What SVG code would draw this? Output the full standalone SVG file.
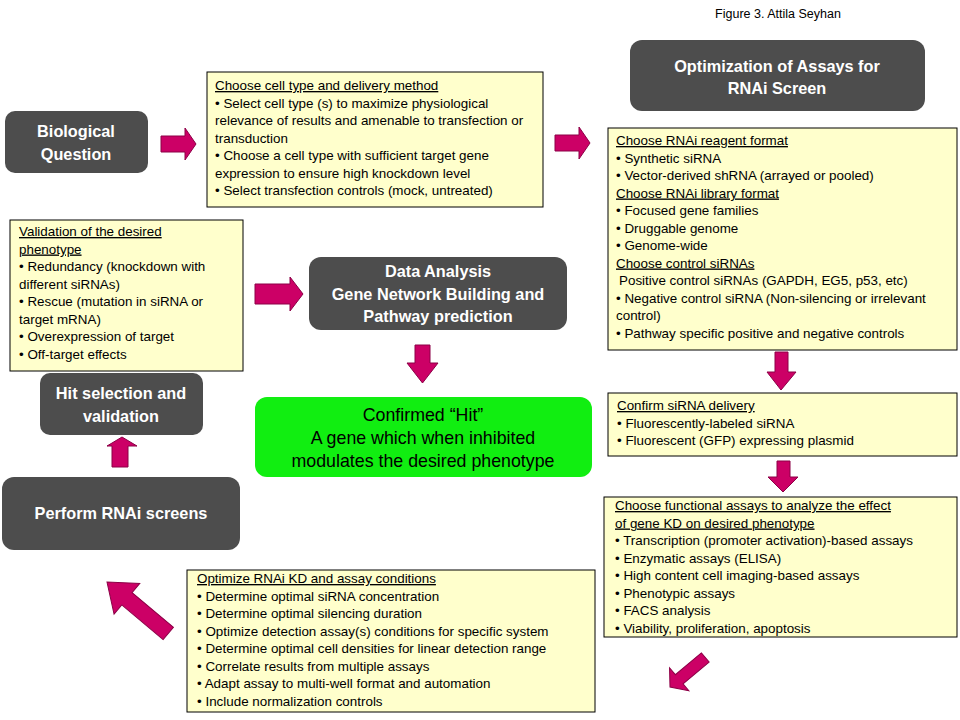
<svg xmlns="http://www.w3.org/2000/svg" width="960" height="720" viewBox="0 0 960 720">
<style>
.dark{fill:#4d4d4d;}
.dt{fill:#ffffff;font-family:"Liberation Sans",Arial,sans-serif;font-weight:bold;font-size:16.3px;text-anchor:middle;}
.note{fill:#ffffcc;stroke:#000000;stroke-width:1;}
.nt{fill:#000000;font-family:"Liberation Sans",Arial,sans-serif;font-size:13.4px;}
.u{text-decoration:underline;}
.arr{fill:#cc0066;stroke:#8c0046;stroke-width:1;}
.gt{fill:#000000;font-family:"Liberation Sans",Arial,sans-serif;font-size:17.8px;text-anchor:middle;}
</style>
<rect width="960" height="720" fill="#ffffff"/>
<text x="778" y="18" font-family="Liberation Sans, Arial, sans-serif" font-size="12.5" text-anchor="middle" fill="#000">Figure 3. Attila Seyhan</text>

<g id="bio-question">
<rect class="dark" x="5" y="111" width="143" height="62" rx="10"/>
<text class="dt" x="76" y="137">Biological</text>
<text class="dt" x="76" y="160">Question</text>
</g>

<g id="optimization-title">
<rect class="dark" x="630" y="40" width="295" height="71" rx="12"/>
<text class="dt" x="777" y="72">Optimization of Assays for</text>
<text class="dt" x="777" y="94">RNAi Screen</text>
</g>

<g id="data-analysis">
<rect class="dark" x="309" y="257" width="258" height="73" rx="12"/>
<text class="dt" x="438" y="277">Data Analysis</text>
<text class="dt" x="438" y="300">Gene Network Building and</text>
<text class="dt" x="438" y="322">Pathway prediction</text>
</g>

<g id="confirmed-hit">
<rect x="255" y="397" width="337" height="80" rx="12" fill="#11ee11"/>
<text class="gt" x="423" y="421">Confirmed “Hit”</text>
<text class="gt" x="423" y="444">A gene which when inhibited</text>
<text class="gt" x="423" y="467">modulates the desired phenotype</text>
</g>

<g id="hit-selection">
<rect class="dark" x="40" y="373" width="163" height="62" rx="10"/>
<text class="dt" x="121" y="399">Hit selection and</text>
<text class="dt" x="121" y="422">validation</text>
</g>

<g id="perform-screens">
<rect class="dark" x="2" y="477" width="238" height="73" rx="12"/>
<text class="dt" x="121" y="519">Perform RNAi screens</text>
</g>

<g id="cell-type">
<rect class="note" x="207" y="72" width="336" height="135"/>
<text class="nt" x="215" y="90"><tspan class="u">Choose cell type and delivery method</tspan></text>
<text class="nt" x="215" y="107.5">• Select cell type (s) to maximize physiological</text>
<text class="nt" x="215" y="125">relevance of results and amenable to transfection or</text>
<text class="nt" x="215" y="142.5">transduction</text>
<text class="nt" x="215" y="160">• Choose a cell type with sufficient target gene</text>
<text class="nt" x="215" y="177.5">expression to ensure high knockdown level</text>
<text class="nt" x="215" y="195">• Select transfection controls (mock, untreated)</text>
</g>

<g id="reagent-format">
<rect class="note" x="608" y="128" width="349" height="222"/>
<text class="nt" x="616" y="145"><tspan class="u">Choose RNAi reagent format</tspan></text>
<text class="nt" x="616" y="162.5">• Synthetic siRNA</text>
<text class="nt" x="616" y="180">• Vector-derived shRNA (arrayed or pooled)</text>
<text class="nt" x="616" y="197.5"><tspan class="u">Choose RNAi library format</tspan></text>
<text class="nt" x="616" y="215">• Focused gene families</text>
<text class="nt" x="616" y="232.5">• Druggable genome</text>
<text class="nt" x="616" y="250">• Genome-wide</text>
<text class="nt" x="616" y="267.5"><tspan class="u">Choose control siRNAs</tspan></text>
<text class="nt" x="619" y="285">Positive control siRNAs (GAPDH, EG5, p53, etc)</text>
<text class="nt" x="616" y="302.5">• Negative control siRNA (Non-silencing or irrelevant</text>
<text class="nt" x="616" y="320">control)</text>
<text class="nt" x="616" y="337.5">• Pathway specific positive and negative controls</text>
</g>

<g id="validation">
<rect class="note" x="10" y="220" width="233" height="151"/>
<text class="nt" x="19" y="236"><tspan class="u">Validation of the desired</tspan></text>
<text class="nt" x="19" y="253.5"><tspan class="u">phenotype</tspan></text>
<text class="nt" x="19" y="271">• Redundancy (knockdown with</text>
<text class="nt" x="19" y="288.5">different siRNAs)</text>
<text class="nt" x="19" y="306">• Rescue (mutation in siRNA or</text>
<text class="nt" x="19" y="323.5">target mRNA)</text>
<text class="nt" x="19" y="341">• Overexpression of target</text>
<text class="nt" x="19" y="358.5">• Off-target effects</text>
</g>

<g id="confirm-delivery">
<rect class="note" x="608" y="393" width="349" height="63"/>
<text class="nt" x="617" y="410"><tspan class="u">Confirm siRNA delivery</tspan></text>
<text class="nt" x="617" y="427.5">• Fluorescently-labeled siRNA</text>
<text class="nt" x="617" y="445">• Fluorescent (GFP) expressing plasmid</text>
</g>

<g id="functional-assays">
<rect class="note" x="604" y="497" width="353" height="140"/>
<text class="nt" x="615" y="510"><tspan class="u">Choose functional assays to analyze the effect</tspan></text>
<text class="nt" x="615" y="527.5"><tspan class="u"> of gene KD on desired phenotype</tspan></text>
<text class="nt" x="615" y="545">• Transcription (promoter activation)-based assays</text>
<text class="nt" x="615" y="562.5">• Enzymatic assays (ELISA)</text>
<text class="nt" x="615" y="580">• High content cell imaging-based assays</text>
<text class="nt" x="615" y="597.5">• Phenotypic assays</text>
<text class="nt" x="615" y="615">• FACS analysis</text>
<text class="nt" x="615" y="632.5">• Viability, proliferation, apoptosis</text>
</g>

<g id="optimize-kd">
<rect class="note" x="187" y="570" width="408" height="142"/>
<text class="nt" x="197" y="583"><tspan class="u">Optimize RNAi KD and assay conditions</tspan></text>
<text class="nt" x="197" y="600.5">• Determine optimal siRNA concentration</text>
<text class="nt" x="197" y="618">• Determine optimal silencing duration</text>
<text class="nt" x="197" y="635.5">• Optimize detection assay(s) conditions for specific system</text>
<text class="nt" x="197" y="653">• Determine optimal cell densities for linear detection range</text>
<text class="nt" x="197" y="670.5">• Correlate results from multiple assays</text>
<text class="nt" x="197" y="688">• Adapt assay to multi-well format and automation</text>
<text class="nt" x="197" y="705.5">• Include normalization controls</text>
</g>

<g id="connectors">
<polygon class="arr" points="161,136 185,136 185,128 196,144 185,160 185,152 161,152"/>
<polygon class="arr" points="555,135 579,135 579,127 590,143 579,159 579,151 555,151"/>
<polygon class="arr" points="775,352 788,352 788,372 796,372 781,390 767,372 775,372"/>
<polygon class="arr" points="777,461 790,461 790,477 798,477 783,492 768,477 777,477"/>
<polygon class="arr" points="-46,-6 -12,-6 -12,-15 0,0 -12,15 -12,6 -46,6" transform="translate(670,687) rotate(140)"/>
<polygon class="arr" points="-80,-8 -26,-8 -26,-20 0,0 -26,20 -26,8 -80,8" transform="translate(107,582) rotate(-140)"/>
<polygon class="arr" points="112,467 128,467 128,446 137,446 122,437 107,446 112,446"/>
<polygon class="arr" points="255,284 290,284 290,277 303,294 290,311 290,304 255,304"/>
<polygon class="arr" points="415,345 430,345 430,363 438,363 422.5,383 407,363 415,363"/>
</g>
</svg>
